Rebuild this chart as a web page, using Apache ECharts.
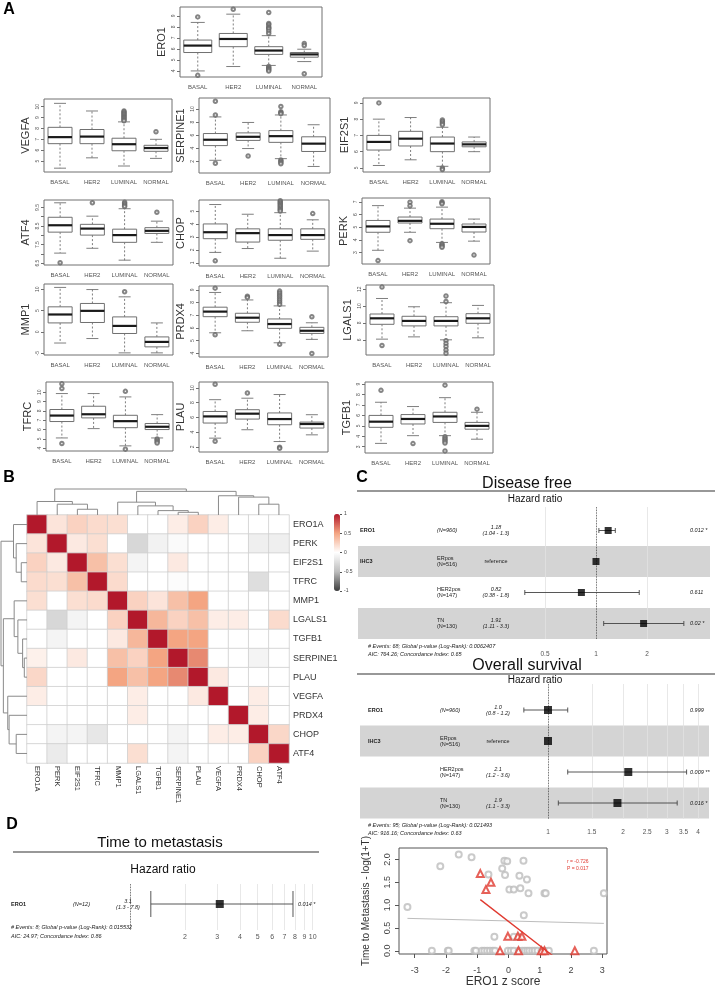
<!DOCTYPE html>
<html>
<head>
<meta charset="utf-8">
<script src="https://cdn.jsdelivr.net/npm/echarts@6/dist/echarts.min.js"></script>
<style>
  html, body { margin: 0; background: #fff; }
  #chart { width: 715px; height: 985px; }
</style>
</head>
<body>
<div id="chart"></div>
<script>
const FONT = '"Liberation Sans", Arial, sans-serif';

// ---- A: expression per subtype ----
const subtypes = ['BASAL', 'HER2', 'LUMINAL', 'NORMAL'];

// [lower whisker, Q1, median, Q3, upper whisker] for BASAL, HER2, LUMINAL, NORMAL
const boxERO1 = [[4.0, 5.67, 6.3, 6.8, 8.4], [4.4, 6.2, 6.9, 7.4, 9.15], [4.5, 5.5, 5.85, 6.2, 7.2], [4.85, 5.25, 5.5, 5.67, 5.97]];
const outERO1 = [[0, 8.9], [0, 3.6], [1, 9.6], [2, 9.3], [2, 8.3], [2, 8.2], [2, 8.0], [2, 7.9], [2, 7.8], [2, 7.6], [2, 7.4], [2, 4.4], [2, 4.3], [2, 4.2], [2, 4.1], [2, 4.0], [3, 6.5], [3, 6.3], [3, 3.75]];
const ticksERO1 = [4, 5, 6, 7, 8, 9];

const boxVEGFA = [[4.35, 6.6, 7.2, 8.1, 10.3], [5.3, 6.6, 7.25, 7.9, 9.6], [4.55, 5.95, 6.55, 7.1, 8.6], [5.25, 5.9, 6.2, 6.45, 7.0]];
const outVEGFA = [[2, 9.6], [2, 9.5], [2, 9.4], [2, 9.3], [2, 9.2], [2, 9.1], [2, 9.0], [2, 8.9], [2, 8.8], [2, 8.7], [3, 7.7]];
const ticksVEGFA = [5, 6, 7, 8, 9, 10];

const boxSERPINE1 = [[2.15, 4.4, 5.3, 6.25, 8.8], [3.95, 5.2, 5.75, 6.35, 7.95], [2.4, 4.9, 5.85, 6.7, 9.1], [1.2, 3.5, 4.7, 5.75, 7.6]];
const outSERPINE1 = [[0, 11.2], [0, 9.1], [0, 1.7], [1, 2.8], [2, 10.4], [2, 9.6], [2, 9.45], [2, 9.3], [2, 2.2], [2, 2.0], [2, 1.8], [2, 1.6]];
const ticksSERPINE1 = [2, 4, 6, 8, 10];

const boxEIF2S1 = [[5.15, 6.1, 6.6, 7.0, 8.0], [5.5, 6.35, 6.8, 7.25, 8.1], [5.1, 6.0, 6.5, 6.9, 7.5], [6.0, 6.3, 6.45, 6.6, 6.9]];
const outEIF2S1 = [[0, 9.0], [2, 7.95], [2, 7.85], [2, 7.75], [2, 7.65], [2, 5.0], [2, 4.9]];
const ticksEIF2S1 = [5, 6, 7, 8, 9];

const boxATF4 = [[7.04, 8.17, 8.54, 8.97, 9.75], [7.3, 8.01, 8.36, 8.59, 9.03], [6.66, 7.62, 8.01, 8.33, 9.43], [7.62, 8.1, 8.24, 8.41, 8.76]];
const outATF4 = [[0, 6.52], [1, 9.75], [2, 9.78], [2, 9.7], [2, 9.62], [2, 9.55], [3, 9.24]];
const ticksATF4 = [6.5, 7, 7.5, 8, 8.5, 9, 9.5];
const labelsATF4 = [6.5, 7.5, 8.5, 9.5];

const boxCHOP = [[1.8, 2.86, 3.36, 4.0, 5.5], [2.1, 2.6, 3.29, 3.62, 4.75], [1.35, 2.74, 3.14, 3.62, 4.87], [1.9, 2.81, 3.14, 3.62, 4.32]];
const outCHOP = [[0, 1.15], [2, 5.9], [2, 5.8], [2, 5.7], [2, 5.6], [2, 5.5], [2, 5.4], [2, 5.3], [2, 5.2], [2, 5.1], [2, 5.0], [3, 4.8]];
const ticksCHOP = [1, 2, 3, 4, 5];

const boxPERK = [[3.18, 4.6, 5.06, 5.53, 6.7], [4.6, 5.33, 5.5, 5.8, 6.5], [3.8, 4.88, 5.27, 5.64, 6.58], [3.9, 4.62, 5.02, 5.25, 5.64]];
const outPERK = [[0, 2.37], [1, 6.97], [1, 6.69], [1, 3.94], [2, 7.0], [2, 6.92], [2, 6.85], [2, 3.7], [2, 3.6], [2, 3.5], [2, 3.42], [3, 2.8]];
const ticksPERK = [3, 4, 5, 6, 7];

const boxMMP1 = [[-2.6, 2.1, 4.07, 5.86, 10.4], [-1.55, 2.2, 4.92, 6.65, 9.9], [-4.9, -0.37, 1.4, 3.51, 8.2], [-4.9, -3.5, -2.34, -1.17, 2.1]];
const outMMP1 = [[2, 9.4]];
const ticksMMP1 = [-5, 0, 5, 10];

const boxPRDX4 = [[5.61, 6.88, 7.28, 7.63, 8.79], [5.77, 6.44, 6.8, 7.15, 8.2], [4.82, 5.96, 6.3, 6.7, 7.73], [5.09, 5.56, 5.77, 6.04, 6.4]];
const outPRDX4 = [[0, 9.13], [0, 5.45], [1, 8.5], [1, 8.4], [2, 8.9], [2, 8.75], [2, 8.6], [2, 8.45], [2, 8.3], [2, 8.15], [2, 8.0], [2, 7.85], [2, 4.7], [3, 6.87], [3, 3.98]];
const ticksPRDX4 = [4, 5, 6, 7, 8, 9];

const boxLGALS1 = [[6.08, 7.84, 8.55, 9.06, 10.9], [6.35, 7.65, 8.24, 8.79, 9.92], [6.0, 7.65, 8.24, 8.74, 10.4], [6.24, 7.96, 8.55, 9.1, 10.08]];
const outLGALS1 = [[0, 12.25], [0, 5.33], [2, 11.2], [2, 10.55], [2, 5.9], [2, 5.55], [2, 5.2], [2, 4.8], [2, 4.4]];
const ticksLGALS1 = [6, 8, 10, 12];

const boxTFRC = [[5.1, 6.86, 7.5, 8.15, 9.86], [6.1, 7.25, 7.64, 8.5, 9.86], [4.25, 6.2, 6.9, 7.53, 9.5], [5.1, 6.0, 6.3, 6.65, 7.6]];
const outTFRC = [[0, 10.9], [0, 10.4], [0, 4.5], [2, 10.1], [2, 3.9], [3, 5.0], [3, 4.85], [3, 4.7], [3, 4.55]];
const ticksTFRC = [4, 5, 6, 7, 8, 9, 10];

const boxPLAU = [[3.18, 5.23, 6.13, 6.8, 8.4], [4.32, 5.77, 6.5, 7.04, 8.6], [2.72, 5.0, 5.77, 6.6, 9.1], [3.63, 4.55, 5.1, 5.36, 6.36]];
const outPLAU = [[0, 10.5], [0, 2.75], [1, 9.3], [2, 1.95], [2, 1.8]];
const ticksPLAU = [2, 4, 6, 8, 10];

const boxTGFB1 = [[3.32, 4.86, 5.4, 6.0, 7.26], [4.06, 5.18, 5.66, 6.08, 6.85], [4.06, 5.33, 5.9, 6.3, 7.7], [3.72, 4.68, 5.0, 5.33, 6.3]];
const outTGFB1 = [[0, 8.4], [1, 3.3], [2, 8.9], [2, 3.95], [2, 3.8], [2, 3.65], [2, 3.5], [2, 3.35], [2, 2.6], [3, 6.6]];
const ticksTGFB1 = [3, 4, 5, 6, 7, 8, 9];

// ---- B: correlation heatmap ----
const hmGenes = ['ERO1A', 'PERK', 'EIF2S1', 'TFRC', 'MMP1', 'LGALS1', 'TGFB1', 'SERPINE1', 'PLAU', 'VEGFA', 'PRDX4', 'CHOP', 'ATF4'];
const corrMatrix = [
  [1, 0.15, 0.25, 0.2, 0.18, 0, 0, 0.1, 0.25, 0.1, 0, 0, 0],
  [0.15, 1, 0.12, 0.18, 0, -0.3, -0.1, -0.04, 0, 0, 0, -0.12, -0.12],
  [0.25, 0.12, 1, 0.35, 0.18, -0.08, 0, 0.12, 0, 0, 0, 0, 0],
  [0.2, 0.18, 0.35, 1, 0.2, 0, 0, -0.02, 0, 0, 0, -0.25, 0],
  [0.18, 0, 0.18, 0.2, 1, 0.25, 0.15, 0.35, 0.5, 0, 0, 0, 0],
  [0, -0.3, -0.08, 0, 0.25, 1, 0.4, 0.25, 0.35, 0.1, 0.1, 0, 0.2],
  [0, -0.08, 0, 0, 0.12, 0.4, 1, 0.5, 0.5, 0, 0, 0, 0],
  [0.08, 0, 0.12, 0, 0.35, 0.25, 0.5, 1, 0.6, 0, 0, -0.08, 0],
  [0.22, 0, 0, 0, 0.5, 0.35, 0.5, 0.6, 1, 0.12, 0, 0, 0],
  [0.1, 0, 0, 0, 0, 0.1, 0, 0, 0.12, 1, 0, 0.1, 0],
  [0, 0, 0, 0, 0, 0.1, 0, 0, 0, 0, 1, 0.1, 0],
  [0, -0.08, -0.08, -0.18, 0, 0, 0, -0.08, 0, 0.1, 0.1, 1, 0.22],
  [0, -0.15, 0, 0, 0, 0.18, 0, -0.08, 0, 0, 0, 0.25, 1]
];
// hierarchical clustering: [node a, node b, height]; leaves 0-12 follow hmGenes
const dendroMerges = [[7, 8, 8], [6, 13, 13], [2, 3, 17], [5, 14, 27], [1, 15, 32], [11, 12, 32], [4, 16, 38], [0, 17, 40], [10, 18, 53], [9, 21, 57], [19, 22, 70], [20, 23, 77]];
const legendTicks = [-1, -0.5, 0, 0.5, 1];

// ---- C: Cox models ----
const dfNames = ['ERO1', 'IHC3', '', ''];
const dfGroups = ['(N=960)', 'ERpos\n(N=516)', 'HER2pos\n(N=147)', 'TN\n(N=130)'];
const dfHR = [1.18, 1, 0.82, 1.91];
const dfLow = [1.04, null, 0.38, 1.11];
const dfHigh = [1.3, null, 1.8, 3.3];
const dfEst = ['1.18\n(1.04 - 1.3)', 'reference', '0.82\n(0.38 - 1.8)', '1.91\n(1.11 - 3.3)'];
const dfP = ['0.012 *', '', '0.611', '0.02 *'];
const dfNote = ['# Events: 68; Global p-value (Log-Rank): 0.0062407', 'AIC: 764.26; Concordance Index: 0.65'];
const dfTicks = [0.5, 1, 2];

const osNames = ['ERO1', 'IHC3', '', ''];
const osGroups = ['(N=960)', 'ERpos\n(N=516)', 'HER2pos\n(N=147)', 'TN\n(N=130)'];
const osHR = [1.0, 1, 2.1, 1.9];
const osLow = [0.8, null, 1.2, 1.1];
const osHigh = [1.2, null, 3.6, 3.3];
const osEst = ['1.0\n(0.8 - 1.2)', 'reference', '2.1\n(1.2 - 3.6)', '1.9\n(1.1 - 3.3)'];
const osP = ['0.999', '', '0.009 **', '0.016 *'];
const osNote = ['# Events: 95; Global p-value (Log-Rank): 0.021493', 'AIC: 916.16; Concordance Index: 0.63'];
const osTicks = [1, 1.5, 2, 2.5, 3, 3.5, 4];

// ---- D ----
const tmNames = ['ERO1'];
const tmGroups = ['(N=12)'];
const tmHR = [3.1];
const tmLow = [1.3];
const tmHigh = [7.8];
const tmEst = ['3.1\n(1.3 - 7.8)'];
const tmP = ['0.014 *'];
const tmNote = ['# Events: 8; Global p-value (Log-Rank): 0.015532', 'AIC: 24.97; Concordance Index: 0.86'];
const tmTicks = [2, 3, 4, 5, 6, 7, 8, 9, 10];

const grayPoints = [[-3.23, 0.96], [-2.18, 1.85], [-1.59, 2.11], [-1.18, 2.05], [-0.13, 1.97], [-0.04, 1.96], [0.48, 1.97],
  [-0.2, 1.8], [-0.64, 1.67], [-0.11, 1.66], [0.35, 1.64], [0.59, 1.56], [0.03, 1.34], [0.17, 1.34], [0.38, 1.37],
  [0.64, 1.26], [1.15, 1.26], [1.19, 1.26], [3.05, 1.26], [0.49, 0.78], [-0.45, 0.31], [0.17, 0.31], [0.33, 0.31],
  [-2.45, 0], [-1.94, 0], [-1.91, 0], [-1.09, 0], [-1.04, 0], [-0.85, 0], [-0.77, 0], [-0.68, 0], [-0.59, 0], [-0.5, 0],
  [-0.43, 0], [-0.02, 0], [0.08, 0], [0.17, 0], [0.33, 0], [0.44, 0], [0.52, 0], [0.6, 0], [0.67, 0], [0.76, 0],
  [0.84, 0], [0.93, 0], [1.06, 0], [1.15, 0], [1.29, 0], [2.73, 0]];
const redPoints = [[-0.9, 1.69], [-0.56, 1.5], [-0.72, 1.34], [-0.02, 0.32], [0.3, 0.32], [0.43, 0.32],
  [-0.27, 0], [0.32, 0], [1.05, 0], [1.15, 0], [2.12, 0]];
const grayFit = [[-3.23, 0.71], [3.05, 0.6]];
const redFit = [[-0.9, 1.12], [2.12, -0.48]];
const redStats = ['r = -0.726', 'P = 0.017'];
const zTicks = [-3, -2, -1, 0, 1, 2, 3];
const tTicks = [0, 0.5, 1, 1.5, 2];

// ---------------------------------------------------------------
const grid = [], xAxis = [], yAxis = [], series = [], graphic = [];
const noLine = { show: false, onZero: false };

function txt(x, y, text, o) {
  o = o || {};
  return {
    type: 'text', x: x, y: y, silent: true, z: 20,
    style: {
      text: text, fill: o.color || '#222', fontSize: o.size || 6, fontFamily: FONT,
      fontWeight: o.bold ? 'bold' : 'normal', fontStyle: o.italic ? 'italic' : 'normal',
      align: o.align || 'left', verticalAlign: 'middle', lineHeight: o.lh || undefined
    }
  };
}
function hline(x1, x2, y, color, w) {
  return { type: 'line', silent: true, z: 20, shape: { x1: x1, y1: y, x2: x2, y2: y }, style: { stroke: color || '#333', lineWidth: w || 1 } };
}

// A: boxplot panels
const boxPanels = [
  { gene: 'ERO1', box: boxERO1, out: outERO1, ticks: ticksERO1, labels: ticksERO1, range: [3.45, 9.8], pos: [180, 7, 142, 70], bw: 28 },
  { gene: 'VEGFA', box: boxVEGFA, out: outVEGFA, ticks: ticksVEGFA, labels: ticksVEGFA, range: [4.0, 10.7], pos: [44, 99, 128, 73], bw: 24 },
  { gene: 'SERPINE1', box: boxSERPINE1, out: outSERPINE1, ticks: ticksSERPINE1, labels: ticksSERPINE1, range: [0.2, 11.7], pos: [199, 98, 131, 75], bw: 24 },
  { gene: 'EIF2S1', box: boxEIF2S1, out: outEIF2S1, ticks: ticksEIF2S1, labels: ticksEIF2S1, range: [4.75, 9.3], pos: [363, 98, 127, 74], bw: 24 },
  { gene: 'ATF4', box: boxATF4, out: outATF4, ticks: ticksATF4, labels: labelsATF4, range: [6.4, 9.9], pos: [44, 200, 129, 65], bw: 24 },
  { gene: 'CHOP', box: boxCHOP, out: outCHOP, ticks: ticksCHOP, labels: ticksCHOP, range: [0.75, 5.85], pos: [199, 200, 130, 66], bw: 24 },
  { gene: 'PERK', box: boxPERK, out: outPERK, ticks: ticksPERK, labels: ticksPERK, range: [2.1, 7.3], pos: [362, 198, 128, 66], bw: 24 },
  { gene: 'MMP1', box: boxMMP1, out: outMMP1, ticks: ticksMMP1, labels: ticksMMP1, range: [-5.4, 11.2], pos: [44, 284, 129, 71], bw: 24 },
  { gene: 'PRDX4', box: boxPRDX4, out: outPRDX4, ticks: ticksPRDX4, labels: ticksPRDX4, range: [3.7, 9.3], pos: [199, 286, 129, 71], bw: 24 },
  { gene: 'LGALS1', box: boxLGALS1, out: outLGALS1, ticks: ticksLGALS1, labels: ticksLGALS1, range: [4.2, 12.5], pos: [366, 285, 128, 70], bw: 24 },
  { gene: 'TFRC', box: boxTFRC, out: outTFRC, ticks: ticksTFRC, labels: ticksTFRC, range: [3.7, 11.1], pos: [46, 382, 127, 69], bw: 24 },
  { gene: 'PLAU', box: boxPLAU, out: outPLAU, ticks: ticksPLAU, labels: ticksPLAU, range: [1.3, 10.8], pos: [199, 382, 129, 70], bw: 24 },
  { gene: 'TGFB1', box: boxTGFB1, out: outTGFB1, ticks: ticksTGFB1, labels: ticksTGFB1, range: [2.4, 9.2], pos: [365, 382, 128, 71], bw: 24 }
];

// R-style box: dashed whiskers, half-width staples, thick median
function boxRenderer(bw) {
  return (params, api) => {
    const k = api.value(0);
    const y = d => api.coord([k, api.value(d)])[1];
    const cx = api.coord([k, api.value(3)])[0];
    const lo = y(1), q1 = y(2), md = y(3), q3 = y(4), hi = y(5);
    const g = '#707070';
    const dash = { stroke: g, lineWidth: 0.9, lineDash: [2, 2] };
    const solid = { stroke: g, lineWidth: 0.9 };
    return {
      type: 'group', children: [
        { type: 'line', shape: { x1: cx, y1: q3, x2: cx, y2: hi }, style: dash },
        { type: 'line', shape: { x1: cx, y1: q1, x2: cx, y2: lo }, style: dash },
        { type: 'line', shape: { x1: cx - bw / 4, y1: hi, x2: cx + bw / 4, y2: hi }, style: solid },
        { type: 'line', shape: { x1: cx - bw / 4, y1: lo, x2: cx + bw / 4, y2: lo }, style: solid },
        { type: 'rect', shape: { x: cx - bw / 2, y: q3, width: bw, height: q1 - q3 }, style: { fill: '#fff', stroke: g, lineWidth: 1 } },
        { type: 'line', shape: { x1: cx - bw / 2, y1: md, x2: cx + bw / 2, y2: md }, style: { stroke: '#1a1a1a', lineWidth: 2.2 } }
      ]
    };
  };
}

boxPanels.forEach(p => {
  const gi = grid.length;
  grid.push({ left: p.pos[0], top: p.pos[1], width: p.pos[2], height: p.pos[3], show: true, borderColor: '#707070', borderWidth: 1, outerBoundsMode: 'none' });
  xAxis.push({
    gridIndex: gi, type: 'category', data: subtypes,
    axisLine: noLine, splitLine: { show: false },
    axisTick: { alignWithLabel: true, length: 3, lineStyle: { color: '#707070' } },
    axisLabel: { interval: 0, fontSize: 6, color: '#555', margin: 7 }
  });
  yAxis.push({
    gridIndex: gi, type: 'value', min: p.range[0], max: p.range[1],
    name: p.gene, nameLocation: 'middle', nameGap: 13, nameTextStyle: { fontSize: 11, color: '#333' },
    axisLine: noLine, splitLine: { show: false },
    axisTick: { show: true, length: 3, customValues: p.ticks, lineStyle: { color: '#707070' } },
    axisLabel: { customValues: p.labels, rotate: 90, fontSize: 5, color: '#555', margin: 4 }
  });
  series.push({
    type: 'custom', xAxisIndex: gi, yAxisIndex: gi, silent: true,
    data: p.box.map((b, k) => [k].concat(b)), encode: { x: 0, y: [1, 2, 3, 4, 5] },
    renderItem: boxRenderer(p.bw)
  });
  series.push({
    type: 'scatter', xAxisIndex: gi, yAxisIndex: gi, silent: true, z: 3,
    data: p.out, symbol: 'emptyCircle', symbolSize: 3.5,
    itemStyle: { color: '#666', borderWidth: 0.7 }
  });
});

// B: heatmap
const hmGi = grid.length;
grid.push({ left: 27, top: 515, width: 262, height: 248, outerBoundsMode: 'none' });
xAxis.push({
  gridIndex: hmGi, type: 'category', data: hmGenes, position: 'bottom',
  axisLine: noLine, axisTick: { show: false }, splitLine: { show: false },
  axisLabel: { interval: 0, rotate: -90, fontSize: 7.5, color: '#333', margin: 3 }
});
yAxis.push({
  gridIndex: hmGi, type: 'category', data: hmGenes, position: 'right', inverse: true,
  axisLine: noLine, axisTick: { show: false }, splitLine: { show: false },
  axisLabel: { interval: 0, fontSize: 9, color: '#333', margin: 4 }
});
const heatData = [];
corrMatrix.forEach((row, r) => row.forEach((v, c) => heatData.push([c, r, v])));
const heatSeries = series.length;
series.push({
  type: 'heatmap', xAxisIndex: hmGi, yAxisIndex: hmGi, data: heatData, silent: true,
  itemStyle: { borderColor: '#cfcfcf', borderWidth: 0.8 }, emphasis: { disabled: true }
});

function dendroSegments(merges, n) {
  const pos = [], hgt = [];
  for (let i = 0; i < n; i++) { pos.push(i); hgt.push(0); }
  return merges.map(([a, b, h]) => {
    const seg = [pos[a], hgt[a], pos[b], hgt[b], h];
    pos.push((pos[a] + pos[b]) / 2);
    hgt.push(h);
    return seg;
  });
}
function dendroSeries(gi, horizontal) {
  return {
    type: 'custom', xAxisIndex: gi, yAxisIndex: gi, silent: true,
    data: dendroSegments(dendroMerges, hmGenes.length),
    encode: horizontal ? { x: [0, 2], y: [1, 3, 4] } : { x: [1, 3, 4], y: [0, 2] },
    renderItem: (params, api) => {
      const pt = (p, h) => api.coord(horizontal ? [p, h] : [h, p]);
      const a = api.value(0), ha = api.value(1), b = api.value(2), hb = api.value(3), h = api.value(4);
      return {
        type: 'polyline',
        shape: { points: [pt(a, ha), pt(a, h), pt(b, h), pt(b, hb)] },
        style: { stroke: '#8a8a8a', lineWidth: 1, fill: null }
      };
    }
  };
}
const topGi = grid.length;
grid.push({ left: 27, top: 489, width: 262, height: 26, outerBoundsMode: 'none' });
xAxis.push({ gridIndex: topGi, type: 'value', min: -0.5, max: hmGenes.length - 0.5, show: false });
yAxis.push({ gridIndex: topGi, type: 'value', min: 0, max: 77, show: false });
series.push(dendroSeries(topGi, true));
const leftGi = grid.length;
grid.push({ left: 1, top: 515, width: 26, height: 248, outerBoundsMode: 'none' });
xAxis.push({ gridIndex: leftGi, type: 'value', min: 0, max: 77, inverse: true, show: false });
yAxis.push({ gridIndex: leftGi, type: 'value', min: -0.5, max: hmGenes.length - 0.5, inverse: true, show: false });
series.push(dendroSeries(leftGi, false));

// colour key axis
const keyGi = grid.length;
grid.push({ left: 334, top: 514, width: 6, height: 77, outerBoundsMode: 'none' });
xAxis.push({ gridIndex: keyGi, type: 'value', min: 0, max: 1, show: false });
yAxis.push({
  gridIndex: keyGi, type: 'value', min: -1, max: 1, position: 'right',
  axisLine: noLine, splitLine: { show: false },
  axisTick: { show: true, length: 2, customValues: legendTicks, lineStyle: { color: '#555' } },
  axisLabel: { customValues: legendTicks, fontSize: 5, color: '#444', margin: 4 }
});

// C / D: forest plots
function forest(d, f) {
  const gi = grid.length;
  const H = f.bottom - f.top;
  const yMin = -(f.rowY0 - f.top) / f.rowH;
  const rowY = i => f.rowY0 + i * f.rowH;
  grid.push({ left: f.left, top: f.top, width: f.right - f.left, height: H, outerBoundsMode: 'none' });
  xAxis.push({
    gridIndex: gi, type: 'log', logBase: 2,
    min: Math.pow(2, (f.left - f.x1) / f.ppd), max: Math.pow(2, (f.right - f.x1) / f.ppd),
    axisLine: noLine, axisTick: { show: false }, splitLine: { show: false },
    axisLabel: { customValues: d.ticks, fontSize: f.tickSize, color: '#555', margin: f.labelMargin, formatter: v => String(+v.toFixed(2)) }
  });
  yAxis.push({ gridIndex: gi, type: 'value', inverse: true, min: yMin, max: yMin + H / f.rowH, show: false, axisLine: noLine });

  f.bands.forEach(i => graphic.push({
    type: 'rect', silent: true, z: 0,
    shape: { x: f.bandX[0], y: rowY(i) - f.rowH / 2, width: f.bandX[1] - f.bandX[0], height: f.rowH },
    style: { fill: '#d4d4d4' }
  }));

  const ci = [];
  d.hr.forEach((v, i) => { if (d.low[i] != null) ci.push([i, d.low[i], d.high[i]]); });
  series.push({
    type: 'custom', xAxisIndex: gi, yAxisIndex: gi, silent: true, z: 4,
    data: ci, encode: { x: [1, 2], y: 0 },
    renderItem: (params, api) => {
      const a = api.coord([api.value(1), api.value(0)]);
      const b = api.coord([api.value(2), api.value(0)]);
      const st = { stroke: '#444', lineWidth: 0.9 };
      return {
        type: 'group', children: [
          { type: 'line', shape: { x1: a[0], y1: a[1], x2: b[0], y2: b[1] }, style: st },
          { type: 'line', shape: { x1: a[0], y1: a[1] - f.cap, x2: a[0], y2: a[1] + f.cap }, style: st },
          { type: 'line', shape: { x1: b[0], y1: b[1] - f.cap, x2: b[0], y2: b[1] + f.cap }, style: st }
        ]
      };
    }
  });
  const marks = d.ticks.filter(t => t !== 1).map(t => ({ xAxis: t, lineStyle: { color: '#e2e2e2', width: 0.8, type: 'solid' } }));
  marks.push({ xAxis: 1, lineStyle: { color: '#333', width: 0.8, type: 'dotted' } });
  series.push({
    type: 'scatter', xAxisIndex: gi, yAxisIndex: gi, silent: true, z: 5,
    data: d.hr.map((v, i) => [v, i]), symbol: 'rect', symbolSize: f.sq,
    itemStyle: { color: '#000' },
    markLine: { silent: true, symbol: ['none', 'none'], label: { show: false }, data: marks, z: 3 }
  });

  d.hr.forEach((v, i) => {
    const y = rowY(i);
    if (d.names[i]) graphic.push(txt(f.cols[0], y, d.names[i], { bold: true, size: 5.5 }));
    graphic.push(txt(f.cols[1], y, d.groups[i], { italic: i === 0, size: 5.5, lh: 6 }));
    const ref = d.est[i] === 'reference';
    graphic.push(txt(f.cols[2], y, d.est[i], { italic: !ref, size: 5.5, lh: 6, align: 'center' }));
    if (d.p[i]) graphic.push(txt(f.cols[3], y, d.p[i], { italic: true, size: 5.5 }));
  });
  graphic.push(txt(f.noteX, f.noteY[0], d.note[0], { italic: true, size: 5.5 }));
  graphic.push(txt(f.noteX, f.noteY[1], d.note[1], { italic: true, size: 5.5 }));
  graphic.push(txt(f.titleX, f.titleY, d.title, { size: f.titleSize, align: 'center', color: '#111' }));
  graphic.push(hline(f.lineX[0], f.lineX[1], f.lineY, '#333', 1.2));
  graphic.push(txt(f.titleX + f.hrDx, f.hrY, 'Hazard ratio', { size: f.hrSize, align: 'center', color: '#111' }));
}

forest(
  { title: 'Disease free', names: dfNames, groups: dfGroups, hr: dfHR, low: dfLow, high: dfHigh, est: dfEst, p: dfP, note: dfNote, ticks: dfTicks },
  { left: 515, right: 706, top: 507, bottom: 639, rowY0: 530.5, rowH: 31, x1: 596, ppd: 51, bands: [1, 3], bandX: [358, 710],
    cols: [360, 437, 496, 690], noteX: 368, noteY: [646, 654], labelMargin: 12, tickSize: 6.5, cap: 2.5, sq: 7,
    titleX: 527, titleY: 484, titleSize: 16, lineX: [357, 715], lineY: 491, hrDx: 8, hrY: 499, hrSize: 10 }
);
forest(
  { title: 'Overall survival', names: osNames, groups: osGroups, hr: osHR, low: osLow, high: osHigh, est: osEst, p: osP, note: osNote, ticks: osTicks },
  { left: 515, right: 706, top: 684, bottom: 819, rowY0: 710, rowH: 31, x1: 548, ppd: 75, bands: [1, 3], bandX: [360, 709],
    cols: [368, 440, 498, 690], noteX: 368, noteY: [825, 833], labelMargin: 10, tickSize: 6.5, cap: 2.5, sq: 8,
    titleX: 527, titleY: 666, titleSize: 16, lineX: [357, 715], lineY: 674, hrDx: 8, hrY: 680, hrSize: 10 }
);
forest(
  { title: 'Time to metastasis', names: tmNames, groups: tmGroups, hr: tmHR, low: tmLow, high: tmHigh, est: tmEst, p: tmP, note: tmNote, ticks: tmTicks },
  { left: 120, right: 318, top: 884, bottom: 930, rowY0: 904, rowH: 31, x1: 130, ppd: 55, bands: [], bandX: [0, 0],
    cols: [11, 73, 128, 298], noteX: 11, noteY: [927, 936], labelMargin: 4, tickSize: 7, cap: 13, sq: 8,
    titleX: 160, titleY: 843, titleSize: 15, lineX: [13, 319], lineY: 852, hrDx: 3, hrY: 870, hrSize: 12 }
);

// D: scatter
const scGi = grid.length;
grid.push({ left: 399, top: 848, width: 208, height: 106, show: true, borderColor: '#555', borderWidth: 1, outerBoundsMode: 'none' });
xAxis.push({
  gridIndex: scGi, type: 'value', min: -3.5, max: 3.15,
  name: 'ERO1 z score', nameLocation: 'middle', nameGap: 21, nameTextStyle: { fontSize: 12, color: '#333' },
  axisLine: noLine, splitLine: { show: false },
  axisTick: { customValues: zTicks, length: 4, lineStyle: { color: '#555' } },
  axisLabel: { customValues: zTicks, fontSize: 9, color: '#444', margin: 12 }
});
yAxis.push({
  gridIndex: scGi, type: 'value', min: -0.07, max: 2.25,
  name: 'Time to Metastasis - log(1+T)', nameLocation: 'middle', nameGap: 28, nameTextStyle: { fontSize: 10, color: '#333' },
  axisLine: noLine, splitLine: { show: false },
  axisTick: { customValues: tTicks, length: 4, lineStyle: { color: '#555' } },
  axisLabel: { customValues: tTicks, rotate: 90, fontSize: 9, color: '#444', margin: 7, formatter: v => (+v).toFixed(1) }
});
series.push({
  type: 'line', xAxisIndex: scGi, yAxisIndex: scGi, data: grayFit, symbol: 'none', silent: true,
  lineStyle: { color: '#bdbdbd', width: 1 }
});
series.push({
  type: 'line', xAxisIndex: scGi, yAxisIndex: scGi, data: redFit, symbol: 'none', silent: true, clip: true,
  lineStyle: { color: '#e0392f', width: 1.3 }
});
series.push({
  type: 'scatter', xAxisIndex: scGi, yAxisIndex: scGi, data: grayPoints, symbol: 'emptyCircle', symbolSize: 6, silent: true,
  itemStyle: { color: '#bdbdbd', borderWidth: 0.8 }
});
series.push({
  type: 'scatter', xAxisIndex: scGi, yAxisIndex: scGi, data: redPoints, symbol: 'emptyTriangle', symbolSize: 7, silent: true,
  itemStyle: { color: '#e0392f', borderWidth: 0.9 }
});
graphic.push(txt(567, 862, redStats[0], { size: 5, color: '#e0392f' }));
graphic.push(txt(567, 869, redStats[1], { size: 5, color: '#e0392f' }));

// panel letters
graphic.push(txt(9, 10, 'A', { size: 16, bold: true, align: 'center', color: '#000' }));
graphic.push(txt(9, 478, 'B', { size: 16, bold: true, align: 'center', color: '#000' }));
graphic.push(txt(362, 478, 'C', { size: 16, bold: true, align: 'center', color: '#000' }));
graphic.push(txt(12, 825, 'D', { size: 16, bold: true, align: 'center', color: '#000' }));

const chart = echarts.init(document.getElementById('chart'));
chart.setOption({
  animation: false,
  backgroundColor: '#fff',
  textStyle: { fontFamily: FONT },
  grid: grid,
  xAxis: xAxis,
  yAxis: yAxis,
  visualMap: {
    type: 'continuous', min: -1, max: 1, seriesIndex: heatSeries, calculable: false, hoverLink: false,
    orient: 'vertical', left: 334, top: 514, itemWidth: 6, itemHeight: 77, padding: 0,
    inRange: { color: ['#3d3d3d', '#bdbdbd', '#ffffff', '#f4a582', '#b2182b'] }
  },
  series: series,
  graphic: { elements: graphic }
});
</script>
</body>
</html>
